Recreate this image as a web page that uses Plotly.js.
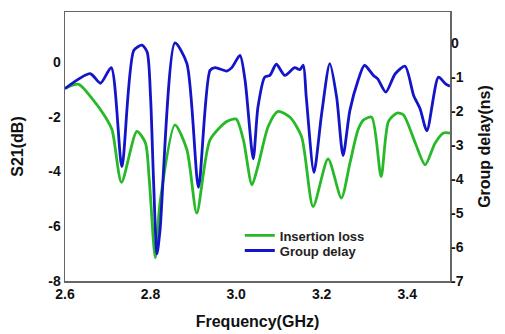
<!DOCTYPE html>
<html>
<head>
<meta charset="utf-8">
<script src="https://cdn.plot.ly/plotly-3.0.1.min.js"></script>
<style>html,body{margin:0;padding:0;background:#fff;}#chart{width:505px;height:334px;}</style>
</head>
<body>
<div id="chart"></div>
<script>
// Insertion loss (S21, dB) – left axis
const lossFreq = [2.600,2.632,2.663,2.694,2.710,2.732,2.768,2.788,2.797,2.811,2.822,2.857,2.885,2.908,2.939,2.978,3.000,3.017,3.037,3.052,3.075,3.098,3.126,3.153,3.180,3.215,3.246,3.266,3.285,3.298,3.317,3.339,3.356,3.376,3.391,3.419,3.442,3.465,3.485,3.500];
const lossVal  = [-0.96,-0.82,-1.33,-2.00,-2.48,-4.40,-2.54,-2.96,-4.31,-7.15,-5.15,-2.30,-3.21,-5.52,-2.85,-2.18,-2.09,-2.85,-4.49,-3.75,-2.36,-1.81,-2.02,-2.73,-5.28,-3.54,-4.97,-3.70,-2.48,-2.12,-2.02,-4.19,-2.18,-1.87,-1.93,-2.97,-3.76,-2.97,-2.60,-2.60];

// Group delay (ns) – right axis
const delayFreq = [2.600,2.659,2.683,2.708,2.733,2.761,2.780,2.792,2.800,2.807,2.815,2.822,2.857,2.885,2.912,2.939,2.951,2.978,2.990,3.009,3.021,3.040,3.051,3.067,3.079,3.094,3.114,3.137,3.149,3.157,3.164,3.182,3.200,3.219,3.235,3.250,3.266,3.285,3.300,3.321,3.331,3.350,3.372,3.395,3.415,3.430,3.446,3.473,3.489,3.500];
const delayVal  = [-1.33,-0.89,-1.17,-0.71,-3.63,-0.20,-0.05,-0.25,-1.58,-4.04,-6.20,-5.52,0.02,-0.59,-4.24,-0.79,-0.71,-0.81,-0.71,-0.35,-1.09,-3.40,-1.88,-0.99,-0.94,-0.61,-0.94,-0.71,-0.77,-0.64,-1.58,-3.80,-2.06,-0.59,-1.58,-3.30,-1.97,-1.09,-0.64,-0.94,-1.04,-1.43,-0.89,-0.67,-1.53,-1.92,-2.57,-0.99,-1.18,-1.26];

const xTicks = [2.6, 2.8, 3.0, 3.2, 3.4];
const xTickText = ["2.6", "2.8", "3.0", "3.2", "3.4"];
const leftTicks = [-8, -6, -4, -2, 0];
const leftTickText = ["-8", "-6", "-4", "-2", "0"];
const rightTicks = [-7, -6, -5, -4, -3, -2, -1, 0];
const rightTickText = ["-7", "-6", "-5", "-4", "-3", "-2", "-1", "0"];

const FONT = "Liberation Sans, Arial, Helvetica, sans-serif";
const tickFont = {family: FONT, size: 14, color: "#111", weight: "bold"};
const titleFont = {family: FONT, size: 16, color: "#111", weight: "bold"};
const legendFont = {family: FONT, size: 13, color: "#222", weight: "bold"};

const traces = [
  {x: lossFreq, y: lossVal, name: "Insertion loss", type: "scatter", mode: "lines", legend: "legend",
   line: {color: "rgb(40,185,40)", width: 2.8, shape: "spline", smoothing: 0.7}, yaxis: "y"},
  {x: delayFreq, y: delayVal, name: "Group delay", type: "scatter", mode: "lines", legend: "legend2",
   line: {color: "rgb(20,20,200)", width: 2.8, shape: "spline", smoothing: 0.7}, yaxis: "y2"}
];

const layout = {
  width: 505, height: 334,
  margin: {l: 65, r: 55, t: 12, b: 53},
  paper_bgcolor: "#fff", plot_bgcolor: "#fff",
  showlegend: true,
  legend: {x: 0.454, y: 0.225, xanchor: "left", yanchor: "top", bgcolor: "rgba(0,0,0,0)", font: legendFont},
  legend2: {x: 0.454, y: 0.169, xanchor: "left", yanchor: "top", bgcolor: "rgba(0,0,0,0)", font: legendFont},
  xaxis: {range: [2.6, 3.5], tickvals: xTicks, ticktext: xTickText, showgrid: false, zeroline: false,
          showline: true, mirror: true, linecolor: "#666", linewidth: 1.5, ticks: "",
          tickfont: tickFont, title: {text: "Frequency(GHz)", font: titleFont, standoff: 14}},
  yaxis: {range: [-8, 1.82], tickvals: leftTicks, ticktext: leftTickText, showgrid: false, zeroline: false,
          showline: true, mirror: true, linecolor: "#666", linewidth: 1.5, ticks: "",
          tickfont: tickFont, title: {text: "S21(dB)", font: titleFont, standoff: 20}},
  yaxis2: {range: [-7, 0.93], tickvals: rightTicks, ticktext: rightTickText, overlaying: "y", side: "right",
           showgrid: false, zeroline: false, showline: false, ticks: "", tickfont: tickFont,
           title: {text: "Group delay(ns)", font: titleFont, standoff: 16}}
};

Plotly.newPlot("chart", traces, layout, {staticPlot: true, displayModeBar: false});
</script>
</body>
</html>
